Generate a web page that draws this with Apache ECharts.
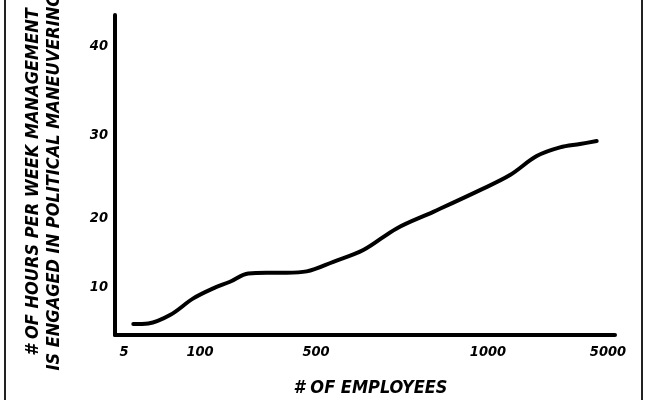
<!DOCTYPE html>
<html>
<head>
<meta charset="utf-8">
<script src="https://cdn.jsdelivr.net/npm/echarts@6/dist/echarts.min.js"></script>
<style>
html,body{margin:0;padding:0;background:#fff;}
#chart{width:650px;height:400px;}
</style>
</head>
<body>
<div id="chart"></div>
<script>
// Position along the hand-drawn employee axis (0 = left end, 100 = right end)
var xPos = [3.66, 6.66, 11.0, 15.66, 19.66, 23.0, 26.66, 30.34, 34.34, 38.34,
            43.66, 49.66, 56.34, 63.66, 73.0, 79.0, 84.34, 89.0, 93.0, 96.34];
// Hours per week spent on political maneuvering
var hours = [6.06, 6.14, 7.18, 9.25, 10.50, 11.32, 12.36, 12.44, 12.44, 12.61,
             13.81, 15.26, 17.96, 20.02, 22.72, 24.59, 26.95, 28.03, 28.45, 28.82];
// Hand-placed tick labels
var xTickLabels = ['5', '100', '500', '1000', '5000'];
var xTickPos = [1.8, 17.0, 40.2, 74.6, 98.6];
var yTickLabels = ['10', '20', '30', '40'];
var yTickPos = [10.66, 19.24, 29.56, 40.58];

var FONT = "'Liberation Sans Narrow','DejaVu Sans Condensed','Liberation Sans',sans-serif";

function pick(pos, labels) {
  return function (v) {
    var best = 0, d = Infinity;
    for (var i = 0; i < pos.length; i++) {
      var dd = Math.abs(pos[i] - v);
      if (dd < d) { d = dd; best = i; }
    }
    return labels[best];
  };
}

var chart = echarts.init(document.getElementById('chart'), null, {renderer: 'canvas'});
chart.setOption({
  animation: false,
  backgroundColor: '#fff',
  grid: {left: 115, right: 35, top: 15, bottom: 65, containLabel: false, outerBoundsMode: 'none'},
  xAxis: {
    type: 'value', min: 0, max: 100,
    name: '# OF EMPLOYEES', nameLocation: 'middle', nameGap: 44,
    nameTextStyle: {fontFamily: FONT, fontWeight: 'bold', fontStyle: 'italic', fontSize: 18, color: '#000', padding: [0, 0, 0, 11]},
    axisLine: {show: true, lineStyle: {color: '#000', width: 4, cap: 'round'}},
    axisTick: {show: false},
    splitLine: {show: false},
    axisLabel: {
      customValues: xTickPos, formatter: pick(xTickPos, xTickLabels),
      fontFamily: FONT, fontWeight: 'bold', fontStyle: 'italic', fontSize: 14.5, color: '#000', margin: 10
    }
  },
  yAxis: {
    type: 'value', min: 4.7, max: 44.5,
    name: '# OF HOURS PER WEEK MANAGEMENT\nIS ENGAGED IN POLITICAL MANEUVERING',
    nameLocation: 'middle', nameGap: 50,
    nameTextStyle: {fontFamily: FONT, fontWeight: 'bold', fontStyle: 'italic', fontSize: 18, lineHeight: 21, color: '#000', padding: [0, 14, 0, 0]},
    axisLine: {show: true, lineStyle: {color: '#000', width: 4, cap: 'round'}},
    axisTick: {show: false},
    splitLine: {show: false},
    axisLabel: {
      customValues: yTickPos, formatter: pick(yTickPos, yTickLabels),
      fontFamily: FONT, fontWeight: 'bold', fontStyle: 'italic', fontSize: 14.5, color: '#000', margin: 7
    }
  },
  series: [{
    type: 'line',
    data: xPos.map(function (x, i) { return [x, hours[i]]; }),
    smooth: 0.35,
    showSymbol: false,
    lineStyle: {color: '#000', width: 4, cap: 'round', join: 'round'}
  }],
  graphic: [
    {type: 'line', shape: {x1: 5, y1: 0, x2: 5, y2: 400}, style: {stroke: '#222', lineWidth: 2}},
    {type: 'line', shape: {x1: 642, y1: 0, x2: 642, y2: 400}, style: {stroke: '#222', lineWidth: 2}}
  ]
});
</script>
</body>
</html>
